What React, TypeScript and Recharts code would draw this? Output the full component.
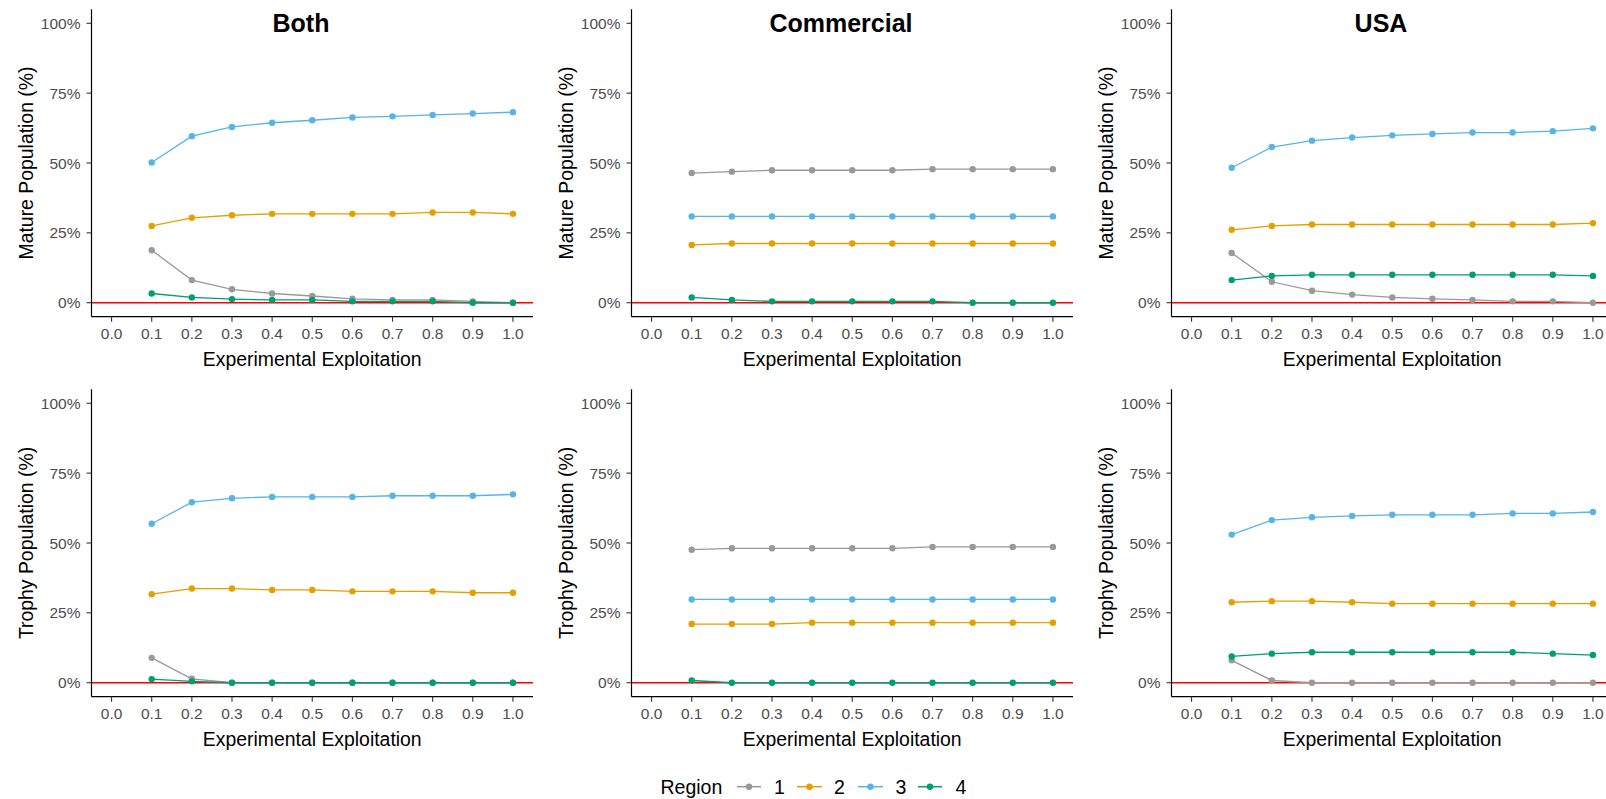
import React from 'react';
import { LineChart, Line, XAxis, YAxis, ReferenceLine, Label } from 'recharts';

// Experimental exploitation levels (x values of every series)
const EXPLOITATION = [0.1, 0.2, 0.3, 0.4, 0.5, 0.6, 0.7, 0.8, 0.9, 1.0];
const X_TICKS = [0, 0.1, 0.2, 0.3, 0.4, 0.5, 0.6, 0.7, 0.8, 0.9, 1.0];
const Y_TICKS = [0, 0.25, 0.5, 0.75, 1];

const REGIONS = ['1', '2', '3', '4'];
const REGION_COLORS = ['#999999', '#E69F00', '#56B4E9', '#009E73'];

const SCENARIOS = ['Both', 'Commercial', 'USA'];
const MEASURES = ['Mature Population (%)', 'Trophy Population (%)'];

// Mature population share by region — "Both"
const bothMatureR1 = [0.188, 0.081, 0.048, 0.033, 0.024, 0.014, 0.010, 0.010, 0.005, 0.000];
const bothMatureR2 = [0.275, 0.304, 0.313, 0.318, 0.318, 0.318, 0.318, 0.323, 0.323, 0.318];
const bothMatureR3 = [0.502, 0.596, 0.629, 0.644, 0.653, 0.663, 0.667, 0.672, 0.677, 0.682];
const bothMatureR4 = [0.033, 0.019, 0.013, 0.010, 0.010, 0.005, 0.005, 0.005, 0.000, 0.000];

// Mature population share by region — "Commercial"
const comMatureR1 = [0.464, 0.469, 0.474, 0.474, 0.474, 0.474, 0.478, 0.478, 0.478, 0.478];
const comMatureR2 = [0.207, 0.212, 0.212, 0.212, 0.212, 0.212, 0.212, 0.212, 0.212, 0.212];
const comMatureR3 = [0.309, 0.309, 0.309, 0.309, 0.309, 0.309, 0.309, 0.309, 0.309, 0.309];
const comMatureR4 = [0.019, 0.010, 0.005, 0.005, 0.005, 0.005, 0.005, 0.000, 0.000, 0.000];

// Mature population share by region — "USA"
const usaMatureR1 = [0.178, 0.075, 0.043, 0.029, 0.019, 0.014, 0.010, 0.005, 0.005, 0.000];
const usaMatureR2 = [0.261, 0.275, 0.280, 0.280, 0.280, 0.280, 0.280, 0.280, 0.280, 0.285];
const usaMatureR3 = [0.483, 0.557, 0.580, 0.591, 0.599, 0.604, 0.609, 0.609, 0.614, 0.624];
const usaMatureR4 = [0.081, 0.096, 0.100, 0.100, 0.100, 0.100, 0.100, 0.100, 0.100, 0.096];

// Trophy population share by region — "Both"
const bothTrophyR1 = [0.089, 0.014, 0.000, 0.000, 0.000, 0.000, 0.000, 0.000, 0.000, 0.000];
const bothTrophyR2 = [0.317, 0.337, 0.337, 0.332, 0.332, 0.327, 0.327, 0.327, 0.322, 0.322];
const bothTrophyR3 = [0.569, 0.646, 0.660, 0.665, 0.665, 0.665, 0.669, 0.669, 0.669, 0.674];
const bothTrophyR4 = [0.013, 0.005, 0.000, 0.000, 0.000, 0.000, 0.000, 0.000, 0.000, 0.000];

// Trophy population share by region — "Commercial"
const comTrophyR1 = [0.476, 0.481, 0.481, 0.481, 0.481, 0.481, 0.486, 0.486, 0.486, 0.486];
const comTrophyR2 = [0.210, 0.210, 0.210, 0.215, 0.215, 0.215, 0.215, 0.215, 0.215, 0.215];
const comTrophyR3 = [0.298, 0.298, 0.298, 0.298, 0.298, 0.298, 0.298, 0.298, 0.298, 0.298];
const comTrophyR4 = [0.008, 0.000, 0.000, 0.000, 0.000, 0.000, 0.000, 0.000, 0.000, 0.000];

// Trophy population share by region — "USA"
const usaTrophyR1 = [0.080, 0.008, 0.000, 0.000, 0.000, 0.000, 0.000, 0.000, 0.000, 0.000];
const usaTrophyR2 = [0.288, 0.292, 0.292, 0.288, 0.283, 0.283, 0.283, 0.283, 0.283, 0.283];
const usaTrophyR3 = [0.530, 0.582, 0.592, 0.597, 0.601, 0.601, 0.601, 0.606, 0.606, 0.611];
const usaTrophyR4 = [0.094, 0.104, 0.109, 0.109, 0.109, 0.109, 0.109, 0.109, 0.104, 0.099];

const PANEL_SERIES = [
  [
    [bothMatureR1, bothMatureR2, bothMatureR3, bothMatureR4],
    [comMatureR1, comMatureR2, comMatureR3, comMatureR4],
    [usaMatureR1, usaMatureR2, usaMatureR3, usaMatureR4],
  ],
  [
    [bothTrophyR1, bothTrophyR2, bothTrophyR3, bothTrophyR4],
    [comTrophyR1, comTrophyR2, comTrophyR3, comTrophyR4],
    [usaTrophyR1, usaTrophyR2, usaTrophyR3, usaTrophyR4],
  ],
];

const FONT = '"Liberation Sans", Arial, Helvetica, sans-serif';
const PANEL_W = 540;
const PANEL_H = 380;
const MARGIN = { top: 9.3, right: 7, bottom: 0, left: 0 };
const Y_AXIS_W = 91.5;
const X_AXIS_H = 63.3;

function buildRows(series: number[][]) {
  return EXPLOITATION.map((x, i) => {
    const row: Record<string, number> = { x };
    series.forEach((s, k) => {
      row['r' + REGIONS[k]] = s[i];
    });
    return row;
  });
}

const pct = (v: number) => `${Math.round(v * 100)}%`;

function XTitle(props: any) {
  const vb = props.viewBox || {};
  return (
    <text
      x={vb.x + vb.width / 2}
      y={vb.y + 42}
      textAnchor="middle"
      dominantBaseline="central"
      fontFamily={FONT}
      fontSize={19.4}
      fill="#000"
    >
      Experimental Exploitation
    </text>
  );
}

function makeYTitle(text: string) {
  return function YTitle(props: any) {
    const vb = props.viewBox || {};
    const cx = vb.x + 26;
    const cy = vb.y + vb.height / 2;
    return (
      <text
        x={cx}
        y={cy}
        transform={`rotate(-90, ${cx}, ${cy})`}
        textAnchor="middle"
        dominantBaseline="central"
        fontFamily={FONT}
        fontSize={19.4}
        fill="#000"
      >
        {text}
      </text>
    );
  };
}

function Panel({ series, yLabel }: { series: number[][]; yLabel: string }) {
  const rows = buildRows(series);
  return (
    <LineChart width={PANEL_W} height={PANEL_H} data={rows} margin={MARGIN}>
      <XAxis
        dataKey="x"
        type="number"
        domain={[-0.05, 1.05]}
        ticks={X_TICKS}
        interval={0}
        allowDataOverflow
        height={X_AXIS_H}
        tickSize={5}
        tickMargin={6}
        tickFormatter={(v: number) => v.toFixed(1)}
        axisLine={{ stroke: '#000', strokeWidth: 1.2 }}
        tickLine={{ stroke: '#333', strokeWidth: 1.1 }}
        tick={{ fill: '#4D4D4D', fontSize: 15.5, fontFamily: FONT }}
      >
        <Label content={<XTitle />} />
      </XAxis>
      <YAxis
        type="number"
        domain={[-0.05, 1.05]}
        ticks={Y_TICKS}
        interval={0}
        allowDataOverflow
        width={Y_AXIS_W}
        tickSize={5}
        tickMargin={6}
        tickFormatter={pct}
        axisLine={{ stroke: '#000', strokeWidth: 1.2 }}
        tickLine={{ stroke: '#333', strokeWidth: 1.1 }}
        tick={{ fill: '#4D4D4D', fontSize: 15.5, fontFamily: FONT }}
      >
        <Label content={React.createElement(makeYTitle(yLabel))} />
      </YAxis>
      <ReferenceLine y={0} stroke="#FF0000" strokeWidth={1.4} />
      {REGIONS.map((r, k) => (
        <Line
          key={r}
          dataKey={'r' + r}
          type="linear"
          stroke={REGION_COLORS[k]}
          strokeWidth={1.3}
          dot={{ r: 3.2, fill: REGION_COLORS[k], stroke: REGION_COLORS[k], strokeWidth: 0 }}
          activeDot={false}
          isAnimationActive={false}
        />
      ))}
    </LineChart>
  );
}

// Legend key positions along the bottom strip
const LEGEND_KEYS = [
  { x1: 737, x2: 761, tx: 774 },
  { x1: 797, x2: 822, tx: 834 },
  { x1: 858, x2: 883, tx: 895.5 },
  { x1: 918, x2: 942, tx: 955.5 },
];

function RegionLegend() {
  const cy = 26.7;
  return (
    <svg width={1606} height={40} style={{ position: 'absolute', left: 0, top: 760 }}>
      <text x={660.5} y={cy} dominantBaseline="central" fontFamily={FONT} fontSize={19.5} fill="#000">
        Region
      </text>
      {REGIONS.map((r, k) => {
        const key = LEGEND_KEYS[k];
        return (
          <g key={r}>
            <line x1={key.x1} x2={key.x2} y1={cy} y2={cy} stroke={REGION_COLORS[k]} strokeWidth={1.5} />
            <circle cx={(key.x1 + key.x2) / 2} cy={cy} r={3.2} fill={REGION_COLORS[k]} />
            <text x={key.tx} y={cy} dominantBaseline="central" fontFamily={FONT} fontSize={19.5} fill="#000">
              {r}
            </text>
          </g>
        );
      })}
    </svg>
  );
}

export default function App() {
  return (
    <div
      style={{
        position: 'absolute',
        left: 0,
        top: 0,
        width: 1606,
        height: 799,
        overflow: 'hidden',
        background: '#fff',
        fontFamily: FONT,
      }}
    >
      {MEASURES.map((measure, row) =>
        SCENARIOS.map((scenario, col) => (
          <div
            key={measure + scenario}
            style={{ position: 'absolute', left: col * PANEL_W, top: row * PANEL_H, width: PANEL_W, height: PANEL_H }}
          >
            <Panel series={PANEL_SERIES[row][col]} yLabel={measure} />
          </div>
        ))
      )}
      {SCENARIOS.map((scenario, col) => (
        <div
          key={'title-' + scenario}
          style={{
            position: 'absolute',
            left: col * PANEL_W + 301 - 150,
            top: 10.5,
            width: 300,
            textAlign: 'center',
            fontFamily: FONT,
            fontWeight: 'bold',
            fontSize: 25,
            lineHeight: '25px',
            color: '#000',
          }}
        >
          {scenario}
        </div>
      ))}
      <RegionLegend />
    </div>
  );
}
